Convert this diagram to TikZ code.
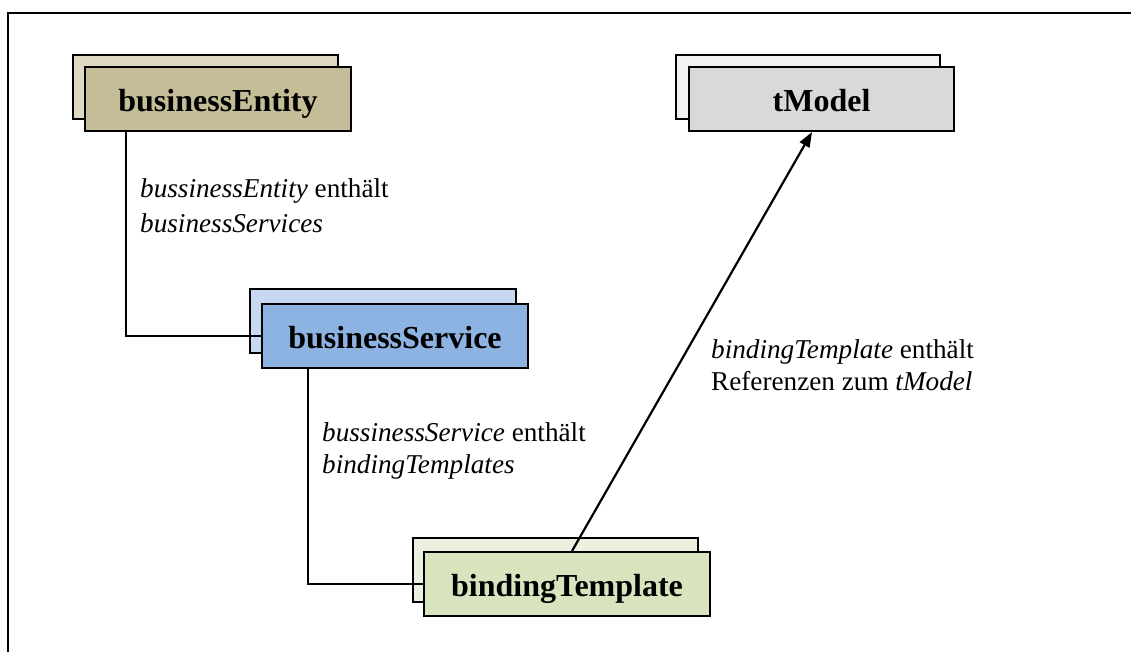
\documentclass[tikz,border=0pt]{standalone}
\usepackage{fontspec}
\setmainfont{Liberation Serif}
\usetikzlibrary{calc,arrows.meta}
\definecolor{beF}{HTML}{C4BD97}
\definecolor{beB}{HTML}{DDD9C3}
\definecolor{tmF}{HTML}{D9D9D9}
\definecolor{tmB}{HTML}{F2F2F2}
\definecolor{bsF}{HTML}{8DB3E2}
\definecolor{bsB}{HTML}{C6D9F1}
\definecolor{btF}{HTML}{D7E4BD}
\definecolor{btB}{HTML}{EBF1DE}
\tikzset{
  box/.style={draw=black, line width=2pt, minimum height=64pt, inner sep=0pt,
    text height=25pt, text depth=0pt,
    font=\fontsize{32}{36}\selectfont\bfseries},
  lbl/.style={anchor=north west, inner sep=0pt, align=left,
    font=\fontsize{27.2}{32}\selectfont},
  conn/.style={draw=black, line width=1.6pt},
}
\begin{document}
\begin{tikzpicture}[x=1pt,y=-1pt]
\useasboundingbox (0,0) rectangle (1131,651);
% frame
\coordinate (f1) at (1140,13);
\coordinate (f0) at (8,13);
\coordinate (f2) at (8,660);
\draw[line width=2pt] (f1) -- (f0) -- (f2);
% back boxes
\node[box, fill=beB, minimum width=265pt] (beb) at (205.5,86.5) {};
\node[box, fill=tmB, minimum width=264pt] (tmb) at (808,86.5) {};
\node[box, fill=bsB, minimum width=266pt] (bsb) at (383,321) {};
\node[box, fill=btB, minimum width=285pt] (btb) at (555.5,570) {};
% front boxes
\node[box, fill=beF, minimum width=266pt] (be) at (218,98.5) {businessEntity};
\node[box, fill=tmF, minimum width=265pt] (tm) at (821.5,99) {tModel};
\node[box, fill=bsF, minimum width=266pt] (bs) at (395,336) {businessService};
\node[box, fill=btF, minimum width=286pt] (bt) at (567,584) {bindingTemplate};
% connectors
\draw[conn] ($(be.south west)+(42,0)$) |- (bs.west);
\draw[conn] ($(bs.south west)+(47,0)$) |- (bt.west);
\draw[conn, line width=2.2pt, -{Triangle[length=15pt,width=11pt]}] ($(bt.north west)+(149,0)$) -- ($(tm.south west)+(124,0)$);
% labels
\node[lbl, font=\fontsize{27.2}{35}\selectfont] (l1) at (140,178) {\textit{bussinessEntity} enthält\\\textit{businessServices}};
\node[lbl] (l2) at (322,422) {\textit{bussinessService} enthält\\\textit{bindingTemplates}};
\node[lbl] (l3) at (711,339) {\textit{bindingTemplate} enthält\\Referenzen zum \textit{tModel}};
\end{tikzpicture}
\end{document}
